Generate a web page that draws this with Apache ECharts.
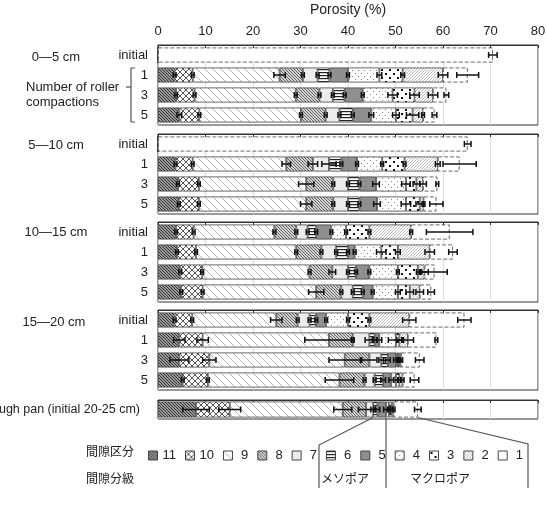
<!DOCTYPE html>
<html>
<head>
<meta charset="utf-8">
<script src="https://cdn.jsdelivr.net/npm/echarts@6/dist/echarts.min.js"></script>
<style>
html, body { margin: 0; padding: 0; background: #fff; }
#main { width: 547px; height: 506px; }
</style>
</head>
<body>
<div id="main"></div>
<script>
// 間隙区分 (pore classes), drawn left to right 11 -> 1
var classes = ['11', '10', '9', '8', '7', '6', '5', '4', '3', '2', '1'];
var rowLabels = ['initial', '1', '3', '5'];
var depthLabels = ['0\u20155 cm', '5\u201510 cm', '10\u201515 cm', '15\u201520 cm'];
var panLabel = 'Plough pan (initial 20-25 cm)';

// cumulative porosity (%) at the right edge of each class, rows: initial, 1, 3, 5
var cum0_5 = [
    [0, 0, 0, 0, 0, 0, 0, 0, 0, 0, 70.5],
    [3.5, 7.3, 25.6, 30.5, 33.6, 36.1, 40.0, 46.6, 51.5, 60.0, 65.2],
    [3.8, 7.7, 29.0, 34.0, 36.8, 39.3, 43.1, 49.4, 54.0, 57.9, 60.7],
    [4.5, 8.7, 30.1, 35.3, 38.2, 41.0, 44.9, 50.1, 53.6, 55.8, 58.2]
];
var err0_5 = [
    [0, 0, 0, 0, 0, 0, 0, 0, 0, 0, 0.9],
    [0.3, 0.3, 1.2, 0.3, 0.3, 0.3, 0.3, 0.5, 0.4, 1.0, 2.3],
    [0.3, 0.3, 0.3, 0.3, 0.3, 0.3, 0.3, 1.0, 1.0, 1.0, 0.5],
    [0.5, 0.3, 0.3, 0.3, 0.3, 0.3, 0.5, 0.7, 1.3, 0.3, 0.5]
];
var cum5_10 = [
    [0, 0, 0, 0, 0, 0, 0, 0, 0, 0, 65.2],
    [3.7, 7.3, 27.0, 32.6, 36.0, 38.6, 41.9, 47.2, 51.9, 58.9, 63.5],
    [4.2, 8.6, 31.2, 36.9, 40.0, 42.4, 45.9, 52.2, 54.4, 55.8, 58.8],
    [4.4, 8.6, 31.2, 36.9, 40.0, 42.4, 46.1, 52.2, 55.1, 55.9, 58.6]
];
var err5_10 = [
    [0, 0, 0, 0, 0, 0, 0, 0, 0, 0, 0.7],
    [0.3, 0.3, 0.9, 1.0, 1.5, 0.3, 0.3, 0.3, 0.3, 0.5, 3.5],
    [0.3, 0.3, 1.6, 0.3, 0.3, 0.3, 0.7, 0.9, 0.7, 0.7, 0.3],
    [0.3, 0.3, 1.2, 0.3, 0.3, 0.3, 0.7, 1.0, 0.8, 0.3, 1.4]
];
var cum10_15 = [
    [3.8, 7.5, 24.5, 29.1, 31.5, 33.3, 36.5, 39.6, 44.5, 53.3, 61.4],
    [4.0, 8.0, 29.1, 34.4, 37.5, 40.0, 41.4, 47.0, 50.5, 57.2, 62.1],
    [4.7, 9.3, 31.9, 36.7, 40.0, 41.7, 44.5, 50.5, 54.7, 56.1, 58.2],
    [4.9, 9.4, 33.3, 38.6, 41.0, 43.1, 45.2, 50.5, 53.0, 55.1, 57.5]
];
var err10_15 = [
    [0.3, 0.3, 0.3, 0.3, 0.3, 0.3, 0.3, 0.3, 0.3, 0.3, 4.9],
    [0.3, 0.3, 0.3, 0.3, 0.3, 0.3, 0.3, 1.0, 0.5, 1.0, 0.9],
    [0.3, 0.3, 0.3, 0.7, 0.3, 0.3, 0.3, 0.3, 0.3, 0.8, 2.7],
    [0.3, 0.3, 1.6, 0.3, 0.3, 0.3, 0.3, 0.5, 0.8, 0.8, 0.7]
];
var cum15_20 = [
    [3.5, 7.2, 24.9, 29.4, 31.9, 33.3, 35.4, 40.0, 44.5, 52.9, 64.5],
    [4.5, 9.4, 36.0, 41.0, 44.5, 45.6, 46.6, 50.1, 50.8, 52.6, 58.6],
    [4.5, 10.8, 39.3, 44.5, 47.0, 48.4, 50.1, 50.5, 50.8, 51.2, 55.1],
    [5.2, 10.5, 38.2, 43.5, 45.6, 47.4, 49.1, 50.1, 50.8, 51.5, 54.0]
];
var err15_20 = [
    [0.3, 0.3, 1.2, 0.3, 0.3, 0.3, 0.3, 0.3, 0.3, 1.4, 1.4],
    [1.2, 1.2, 5.1, 0.3, 0.9, 0.5, 0.5, 1.6, 0.5, 1.2, 0.3],
    [2.0, 1.4, 3.3, 1.6, 0.5, 0.5, 0.5, 0.3, 0.3, 0.3, 0.9],
    [0.3, 0.3, 3.0, 0.3, 0.3, 0.5, 0.5, 0.5, 0.3, 0.3, 0.9]
];
var cumPan = [[8.0, 15.1, 38.9, 43.8, 45.3, 46.2, 48.0, 48.6, 49.2, 49.6, 54.7]];
var errPan = [[2.8, 2.3, 1.9, 1.6, 0.5, 0.5, 0.5, 0.3, 0.3, 0.3, 0.7]];

var panels = [
    { cum: cum0_5, err: err0_5, rows: rowLabels, top: 45, height: 80, bar: 15 },
    { cum: cum5_10, err: err5_10, rows: rowLabels, top: 134, height: 80, bar: 15 },
    { cum: cum10_15, err: err10_15, rows: rowLabels, top: 222, height: 80, bar: 15 },
    { cum: cum15_20, err: err15_20, rows: rowLabels, top: 310, height: 80, bar: 15 },
    { cum: cumPan, err: errPan, rows: [panLabel], top: 400, height: 19, bar: 16 }
];

var FONT = '"Liberation Sans", Arial, "Noto Sans CJK JP", sans-serif';

// --- fill patterns ---
function tile(w, h, bg, draw) {
    var c = document.createElement('canvas');
    c.width = w;
    c.height = h;
    var ctx = c.getContext('2d');
    ctx.fillStyle = bg;
    ctx.fillRect(0, 0, w, h);
    if (draw) draw(ctx);
    return { image: c, repeat: 'repeat' };
}
function diag(ctx, s, dir, color, lw) {
    ctx.strokeStyle = color;
    ctx.lineWidth = lw;
    ctx.beginPath();
    for (var k = -1; k <= 1; k++) {
        if (dir > 0) { // "/"
            ctx.moveTo(k * s, s);
            ctx.lineTo(k * s + s, 0);
        } else { // "\"
            ctx.moveTo(k * s, 0);
            ctx.lineTo(k * s + s, s);
        }
    }
    ctx.stroke();
}
function dots(ctx, color, size, pts) {
    ctx.fillStyle = color;
    pts.forEach(function (p) { ctx.fillRect(p[0], p[1], size, size); });
}

var fills = [
    tile(3, 3, '#9a9a9a', function (c) { diag(c, 3, -1, '#333', 1); }),                            // 11
    tile(6, 6, '#fff', function (c) { diag(c, 6, 1, '#444', 0.9); diag(c, 6, -1, '#444', 0.9); }), // 10
    tile(8, 8, '#fff', function (c) { diag(c, 8, -1, '#a0a0a0', 0.8); }),                          // 9
    tile(3, 3, '#d4d4d4', function (c) { diag(c, 3, -1, '#555', 0.9); }),                          // 8
    '#ececec',                                                                                     // 7
    tile(4, 3, '#fff', function (c) { c.fillStyle = '#222'; c.fillRect(0, 0, 4, 1.2); }),          // 6
    '#8f8f8f',                                                                                     // 5
    tile(6, 6, '#fff', function (c) { dots(c, '#888', 1, [[1, 1], [4, 4]]); }),                    // 4
    tile(8, 8, '#fff', function (c) { dots(c, '#111', 2, [[1, 1], [5, 5]]); }),                    // 3
    tile(3, 3, '#fff', function (c) { diag(c, 3, 1, '#a8a8a8', 0.8); }),                           // 2
    '#fff'                                                                                         // 1
];

var grids = [], xAxes = [], yAxes = [], series = [];

panels.forEach(function (p, g) {
    grids.push({
        left: 158, right: 9, top: p.top, height: p.height,
        outerBoundsMode: 'none', containLabel: false,
        show: true, borderColor: '#333', borderWidth: 1
    });
    xAxes.push({
        gridIndex: g, type: 'value', min: 0, max: 80, interval: 10, position: 'top',
        name: g === 0 ? 'Porosity (%)' : '',
        nameLocation: 'middle', nameGap: 28, nameMoveOverlap: false,
        nameTextStyle: { fontFamily: FONT, fontSize: 14, color: '#222' },
        axisLine: { show: true, lineStyle: { color: '#333' } },
        axisTick: { show: true, inside: true, length: 3, lineStyle: { color: '#333' } },
        axisLabel: { show: g === 0, margin: 7, fontFamily: FONT, fontSize: 13, color: '#222' },
        splitLine: { show: true, lineStyle: { color: '#d6d6d6', width: 0.8 } }
    });
    yAxes.push({
        gridIndex: g, type: 'category', inverse: true, data: p.rows,
        axisLine: { show: false }, axisTick: { show: false },
        axisLabel: { margin: g === 4 ? 18 : 10, fontFamily: FONT, fontSize: g === 4 ? 12.5 : 13, color: '#222' }
    });

    // stacked segments, one series per pore class
    classes.forEach(function (name, k) {
        series.push({
            type: 'bar', name: name, stack: 'panel' + g,
            xAxisIndex: g, yAxisIndex: g, barWidth: p.bar,
            itemStyle: {
                color: fills[k], borderColor: '#444', borderWidth: 0.8,
                borderType: name === '1' ? [4, 2] : 'solid'
            },
            emphasis: { disabled: true },
            data: p.cum.map(function (row) { return +(row[k] - (k ? row[k - 1] : 0)).toFixed(2); })
        });
    });

    // error bars at the class boundaries
    var eb = [];
    p.cum.forEach(function (row, r) {
        row.forEach(function (v, k) {
            var e = p.err[r][k];
            if (e > 0) eb.push([v, r, e]);
        });
    });
    series.push({
        type: 'custom', xAxisIndex: g, yAxisIndex: g, z: 5, clip: false,
        encode: { x: 0, y: 1 }, silent: true,
        renderItem: function (params, api) {
            var v = api.value(0), r = api.value(1), e = api.value(2);
            var a = api.coord([v - e, r]), b = api.coord([v + e, r]);
            var st = { stroke: '#111', lineWidth: 1.5 };
            return {
                type: 'group',
                children: [
                    { type: 'line', shape: { x1: a[0], y1: a[1], x2: b[0], y2: b[1] }, style: st },
                    { type: 'line', shape: { x1: a[0], y1: a[1] - 3, x2: a[0], y2: a[1] + 3 }, style: st },
                    { type: 'line', shape: { x1: b[0], y1: b[1] - 3, x2: b[0], y2: b[1] + 3 }, style: st }
                ]
            };
        },
        data: eb
    });
});

var textStyle = { fontFamily: FONT, fontSize: 13, fill: '#222' };
function label(x, y, text, align, size) {
    return {
        type: 'text', x: x, y: y,
        style: Object.assign({}, textStyle, {
            text: text, align: align || 'left', verticalAlign: 'middle', fontSize: size || 13
        })
    };
}

var myChart = echarts.init(document.getElementById('main'));
var option = {
    animation: false,
    grid: grids,
    xAxis: xAxes,
    yAxis: yAxes,
    legend: {
        data: classes, left: 143, top: 444, itemWidth: 9, itemHeight: 9, itemGap: 9,
        icon: 'rect', selectedMode: false,
        formatter: function (n) { return n.length < 2 ? ' ' + n : n; },
        itemStyle: { borderWidth: 1, borderColor: '#444' },
        textStyle: { fontFamily: FONT, fontSize: 13, color: '#222' }
    },
    series: series
};
myChart.setOption(option);

// annotation: which classes are meso / macro pores, tied to the plough pan bar
var yBar = myChart.convertToPixel({ gridIndex: 4 }, [0, 0])[1] + 8;
var x7 = myChart.convertToPixel({ gridIndex: 4 }, [cumPan[0][4], 0])[0];
var x5 = myChart.convertToPixel({ gridIndex: 4 }, [cumPan[0][6], 0])[0];
var x1 = myChart.convertToPixel({ gridIndex: 4 }, [cumPan[0][10], 0])[0];
var lineStyle = { stroke: '#555', lineWidth: 1.2, fill: null };

var graphic = [
    label(56, 57, depthLabels[0], 'center'),
    label(56, 145, depthLabels[1], 'center'),
    label(56, 232, depthLabels[2], 'center'),
    label(54, 322, depthLabels[3], 'center'),
    label(26, 87, 'Number of roller'),
    label(26, 102, 'compactions'),
    { type: 'polyline', shape: { points: [[135, 68], [131, 68], [131, 122], [135, 122]] }, style: lineStyle },
    { type: 'line', shape: { x1: 126, y1: 87, x2: 131, y2: 87 }, style: lineStyle },
    label(86, 453, '間隙区分', 'left', 12),
    label(86, 480, '間隙分級', 'left', 12),
    label(345, 480, 'メソポア', 'center', 12),
    label(440, 480, 'マクロポア', 'center', 12),
    { type: 'polyline', shape: { points: [[x7, yBar], [319, 445], [319, 488]] }, style: lineStyle },
    { type: 'line', shape: { x1: x5, y1: yBar, x2: x5, y2: 488 }, style: lineStyle },
    { type: 'polyline', shape: { points: [[x1, yBar], [528, 444], [528, 488]] }, style: lineStyle }
];
myChart.setOption({ graphic: graphic });
</script>
</body>
</html>
